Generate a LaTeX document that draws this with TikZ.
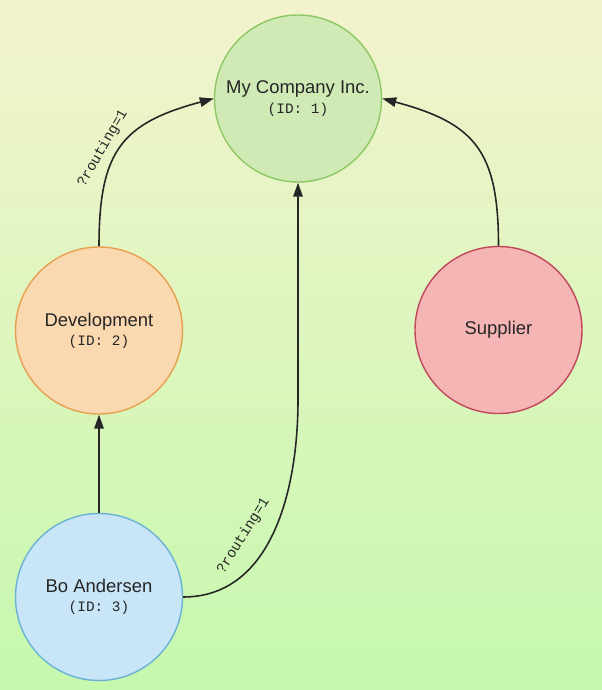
\documentclass[tikz,border=0pt]{standalone}
\usepackage{fontspec}
\setsansfont{Liberation Sans}
\setmonofont{Liberation Mono}
\usetikzlibrary{arrows.meta}

\definecolor{bgtop}{HTML}{F3F3CD}
\definecolor{bgbot}{HTML}{C6F8AE}
\definecolor{cofill}{HTML}{D0EAB6}
\definecolor{codraw}{HTML}{8DC866}
\definecolor{devfill}{HTML}{FAD8B0}
\definecolor{devdraw}{HTML}{E8A050}
\definecolor{bofill}{HTML}{C8E6F8}
\definecolor{bodraw}{HTML}{6AB2D6}
\definecolor{supfill}{HTML}{F5B5B5}
\definecolor{supdraw}{HTML}{C0485A}

\tikzset{
  orgnode/.style={circle, draw, line width=0.8pt, minimum size=3.34cm, inner sep=0pt,
    align=center, text=black!85, font=\sffamily\fontsize{10.5}{11}\selectfont},
  link/.style={-{Triangle[length=0.28cm,width=0.19cm]}, line width=0.9pt, black!85},
  routelabel/.style={sloped, inner sep=1pt, text=black!85,
    font=\ttfamily\fontsize{8.2}{10}\selectfont}
}
\newcommand{\orgid}[1]{{\ttfamily\fontsize{8.2}{10}\selectfont (ID: #1)}}

\begin{document}
\begin{tikzpicture}
% background
\shade[top color=bgtop, bottom color=bgbot] (0,0) rectangle (12.04,-13.8);
\useasboundingbox (0,0) rectangle (12.04,-13.8);

\node[orgnode, fill=cofill, draw=codraw] (co) at (5.96,-1.97) {My Company Inc.\\\orgid{1}};
\node[orgnode, fill=devfill, draw=devdraw] (dev) at (1.98,-6.61) {Development\\\orgid{2}};
\node[orgnode, fill=bofill, draw=bodraw] (bo) at (1.98,-11.94) {Bo Andersen\\\orgid{3}};
\node[orgnode, fill=supfill, draw=supdraw] (sup) at (9.97,-6.6) {Supplier};
\coordinate (bend) at (5.96,-8.0);

\draw[link] (dev.north) to[out=90, in=195, looseness=1.3] node[routelabel, above=3pt, pos=0.43] {?routing=1} (co.west);
\draw[link] (sup.north) to[out=90, in=-15, looseness=1.3] (co.east);
\draw[link] (bo.north) -- (dev.south);
\draw[link] (bo.east) to[out=0, in=-90] node[routelabel, above=9pt, pos=0.42] {?routing=1} (bend) -- (co.south);
\end{tikzpicture}
\end{document}
